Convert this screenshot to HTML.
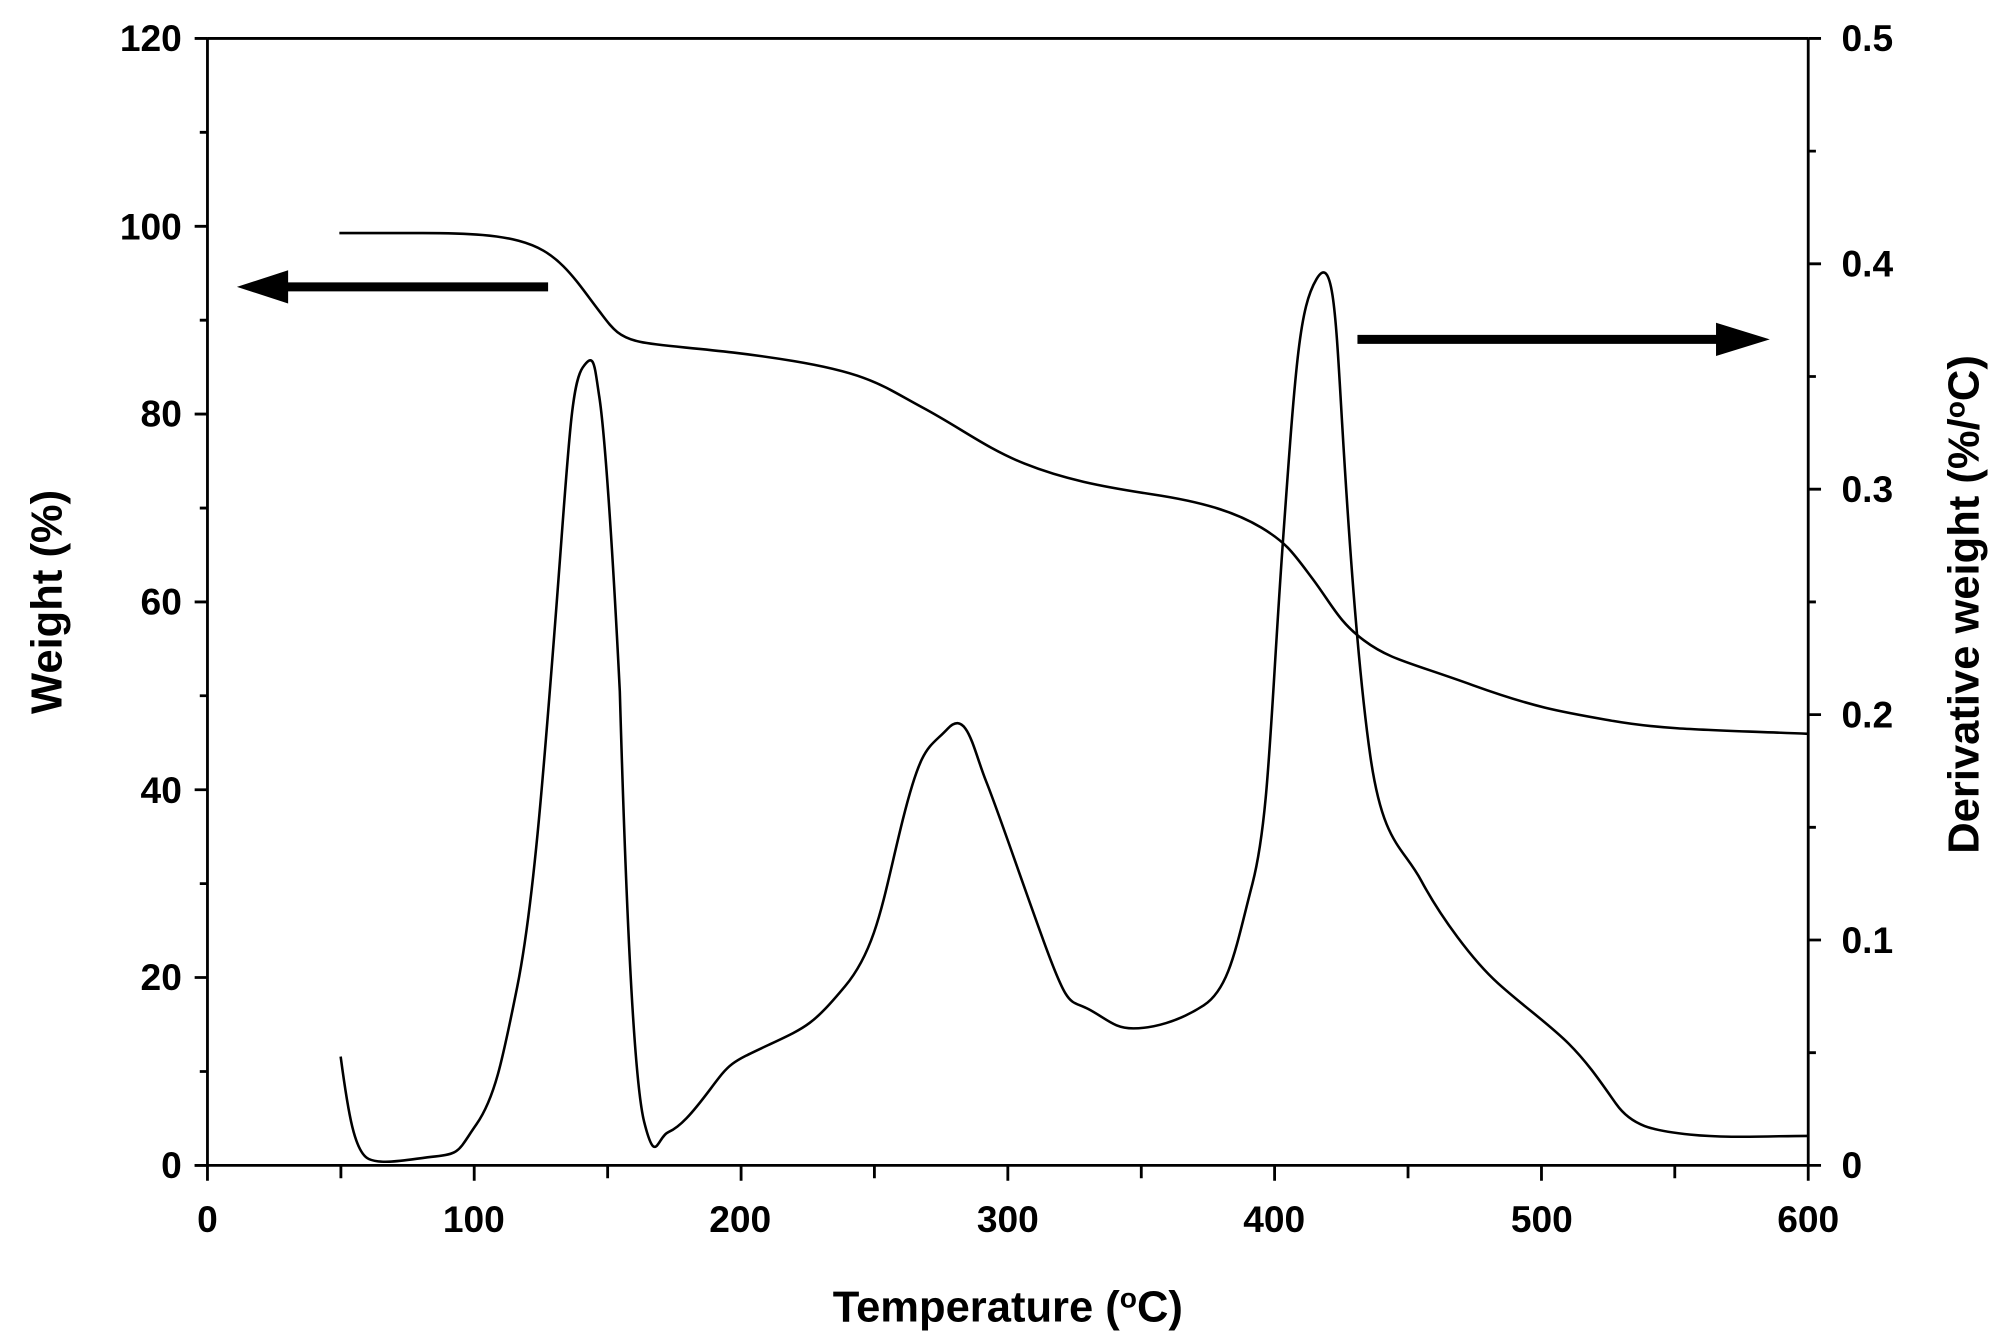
<!DOCTYPE html>
<html><head><meta charset="utf-8"><style>html,body{margin:0;padding:0;background:#fff}svg{display:block}</style></head>
<body>
<svg width="2008" height="1337" viewBox="0 0 1568 1044" preserveAspectRatio="none" xmlns="http://www.w3.org/2000/svg" font-family="Liberation Sans, Arial, sans-serif">
<rect width="1568" height="1044" fill="#fff"/>
<g stroke="#000" stroke-width="2.2" fill="none">
<line x1="162" y1="30" x2="1412" y2="30"/>
<line x1="162" y1="30" x2="162" y2="922"/>
<line x1="1412" y1="30" x2="1412" y2="922"/>
<line x1="152" y1="910" x2="1422" y2="910"/>
<path d="M152 30H162M152 176.7H162M152 323.3H162M152 470H162M152 616.7H162M152 763.3H162M152 910H162
M156 103.3H162M156 250H162M156 396.7H162M156 543.3H162M156 690H162M156 836.7H162"/>
<path d="M1412 30H1422M1412 206H1422M1412 382H1422M1412 558H1422M1412 734H1422
M1412 118H1418M1412 294H1418M1412 470H1418M1412 646H1418M1412 822H1418"/>
<path d="M266.2 910V920M370.3 910V922M474.5 910V920M578.7 910V922M682.8 910V920M787 910V922M891.2 910V920M995.3 910V922M1099.5 910V920M1203.7 910V922M1307.8 910V920"/>
</g>
<g font-size="29" font-weight="bold" fill="#000">
<g text-anchor="end">
<text x="142" y="40">120</text><text x="142" y="187">100</text><text x="142" y="333">80</text><text x="142" y="480">60</text><text x="142" y="627">40</text><text x="142" y="773">20</text><text x="142" y="920">0</text>
</g>
<g text-anchor="start">
<text x="1438" y="40">0.5</text><text x="1438" y="216">0.4</text><text x="1438" y="392">0.3</text><text x="1438" y="568">0.2</text><text x="1438" y="744">0.1</text><text x="1438" y="920">0</text>
</g>
<g text-anchor="middle">
<text x="162" y="962">0</text><text x="370" y="962">100</text><text x="578" y="962">200</text><text x="787" y="962">300</text><text x="995" y="962">400</text><text x="1204" y="962">500</text><text x="1412" y="962">600</text>
</g>
<text x="787" y="1032" text-anchor="middle" font-size="34">Temperature (<tspan font-size="22" dy="-11">o</tspan><tspan dy="11">C)</tspan></text>
<text transform="translate(48,470) rotate(-90)" text-anchor="middle" font-size="34">Weight (%)</text>
<text transform="translate(1545,472) rotate(-90)" text-anchor="middle" font-size="34">Derivative weight (%/<tspan font-size="22" dy="-11">o</tspan><tspan dy="11">C)</tspan></text>
</g>
<g fill="none" stroke="#000" stroke-width="2" stroke-linejoin="round">
<path d="M265,182 L330,182 C370,182 390,184 405,188 S430,198 440,208 S458,230 468,243 S482,263 500,267 S560,272 620,282 S690,302 720,318 S770,350 800,362 S860,380 900,386 S965,400 985,412 S1010,432 1025,452 S1045,485 1065,500 S1100,517 1150,535 S1220,556 1260,563 S1340,570 1412,573"/>
<path d="M266,825 C272,870 277,900 288,905 S320,905 340,903 S358,898 372,878 S392,830 404,770 S424,610 434,480 S446,300 455,287 S464,284 468,310 S478,420 484,540 C488,680 494,840 503,876 S513,888 522,884 S540,870 555,850 S570,830 600,816 S635,800 660,770 S690,700 705,640 S725,585 740,569 S760,585 770,610 S795,680 815,735 S835,780 850,788 S870,803 885,803 S920,798 940,785 S965,740 978,690 S992,560 1002,420 S1015,240 1028,218 S1043,245 1048,330 S1060,520 1070,590 S1095,660 1110,688 S1150,750 1170,768 S1210,800 1225,815 S1250,845 1262,862 S1290,883 1320,886 S1380,887 1412,887"/>
</g>
<g fill="#000" stroke="#000">
<line x1="428" y1="224" x2="220" y2="224" stroke-width="7"/>
<polygon points="185,224 225,211 225,237" stroke="none"/>
<line x1="1060" y1="265" x2="1345" y2="265" stroke-width="7"/>
<polygon points="1382,265 1340,252 1340,278" stroke="none"/>
</g>
</svg>
</body></html>
